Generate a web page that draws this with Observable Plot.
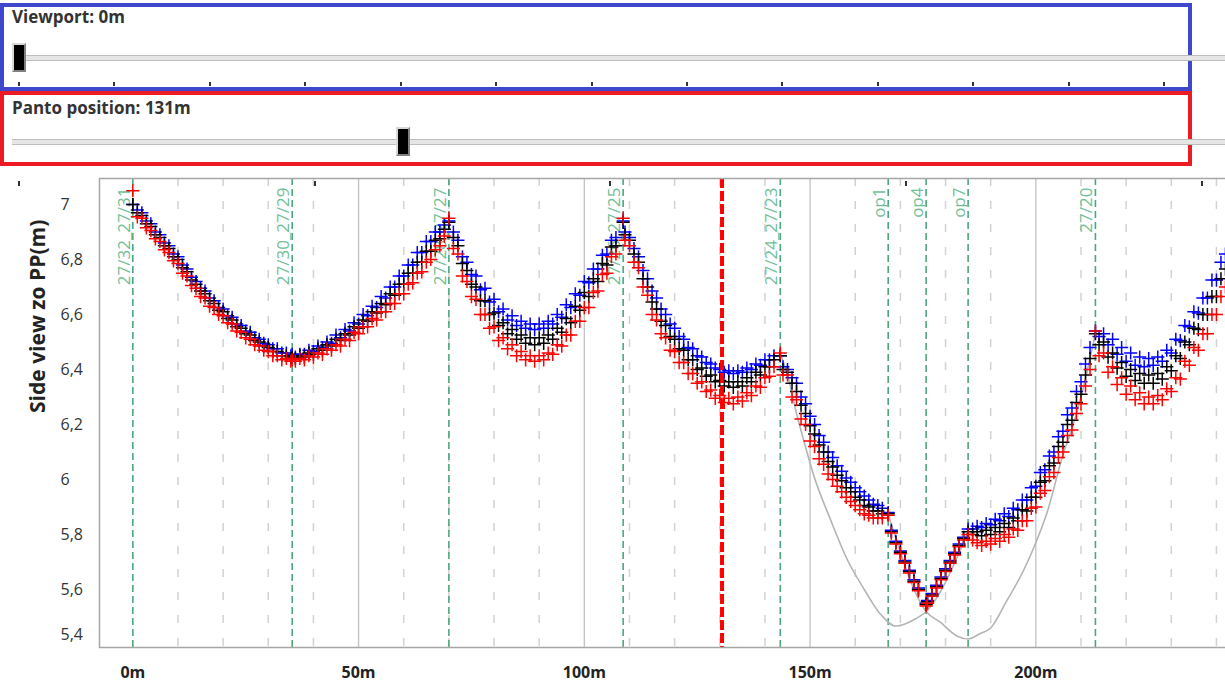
<!DOCTYPE html>
<html><head><meta charset="utf-8">
<script src="https://cdn.jsdelivr.net/npm/d3@7"></script>
<script src="https://cdn.jsdelivr.net/npm/@observablehq/plot@0.6"></script>
<style>
html,body{margin:0;padding:0;background:#fff;}
#wrap{position:relative;width:1225px;height:684px;overflow:hidden;background:#fff;font-family:'Open Sans',sans-serif;}
.box{position:absolute;box-sizing:border-box;}
.lbl{position:absolute;font-weight:bold;font-size:17px;line-height:17px;color:#333;white-space:nowrap;}
.track{position:absolute;box-sizing:border-box;height:6px;border-top:1px solid #bdbdbd;border-bottom:1px solid #bdbdbd;background:#e6e6e6;}
.thumb{position:absolute;box-sizing:border-box;width:14px;height:29px;background:#000;border:2px solid;border-color:#d8d8d8 #808080 #808080 #d8d8d8;}
.tick{position:absolute;width:2px;background:#333;z-index:3;}
#chart{position:absolute;left:0;top:168px;width:1240px;}
#chart svg{max-width:none !important;}
</style>
</head>
<body>
<div id="wrap">
  <div class="box" style="left:0;top:3px;width:1192px;height:88px;border:4px solid #3f48cc;"></div>
  <div class="lbl" style="left:12px;top:8px;">Viewport: 0m</div>
  <div class="track" style="left:12px;top:55px;width:1213px;"></div>
  <div class="thumb" style="left:12px;top:43px;"></div>
  <div class="box" style="left:0;top:91px;width:1192px;height:75px;border:4px solid #ed1c24;"></div>
  <div class="lbl" style="left:12px;top:99px;">Panto position: 131m</div>
  <div class="track" style="left:12px;top:139px;width:1213px;"></div>
  <div class="thumb" style="left:396px;top:127px;"></div>
  <div id="chart"></div>
</div>
<script>
// ---- data (distance in m, height in m) ----
// pass A
const distanceA = [0,2,4,6,8,10,12,14,16,18,20,22,24,26,28,30,32,34,35.3,
  37,39,41,43,45,47,49,51,53,55,57,59,61,63,65,67,69,70,
  72,74,76,78,80,82,84,86,88,90,92,94,96,98,100,102,104,106,108.6,
  110,112,114,116,118,120,122,124,126,128,130,132,134,136,138,140,142,143.4,
  145,147,149,151,153,155,157,159,161,163,165,167.3,
  169,171,173,175.7,177,179,181,183,185,
  187,189,191,193,195,197,199,201,203,205,207,209,211,213.2,
  215,217,219,221,223,225,227,229,231,233,235,237,239,241,242];

const blueA = [7.00,6.97,6.93,6.89,6.85,6.81,6.765,6.72,6.685,6.65,6.62,6.59,6.56,6.535,6.51,6.49,6.475,6.46,6.455,
  6.455,6.47,6.485,6.50,6.525,6.545,6.57,6.60,6.63,6.665,6.70,6.74,6.78,6.825,6.865,6.90,6.925,6.94,
  6.87,6.79,6.74,6.695,6.655,6.62,6.595,6.575,6.565,6.565,6.575,6.60,6.635,6.675,6.72,6.765,6.815,6.87,6.94,
  6.88,6.81,6.73,6.66,6.60,6.55,6.51,6.475,6.445,6.42,6.40,6.395,6.395,6.405,6.42,6.435,6.45,6.45,
  6.40,6.35,6.275,6.20,6.135,6.08,6.03,5.99,5.955,5.925,5.905,5.88,
  5.775,5.705,5.635,5.55,5.585,5.645,5.705,5.765,5.82,
  5.83,5.84,5.855,5.875,5.895,5.925,5.97,6.025,6.085,6.155,6.235,6.32,6.42,6.54,
  6.53,6.51,6.48,6.46,6.445,6.44,6.445,6.47,6.51,6.56,6.61,6.66,6.725,6.79,6.82];

const blackA = [7.00,6.96,6.92,6.88,6.84,6.80,6.755,6.71,6.675,6.64,6.61,6.58,6.55,6.525,6.50,6.48,6.465,6.45,6.445,
  6.45,6.46,6.475,6.49,6.51,6.53,6.555,6.58,6.61,6.64,6.675,6.71,6.75,6.79,6.83,6.87,6.91,6.935,
  6.85,6.76,6.70,6.65,6.605,6.57,6.545,6.525,6.515,6.515,6.525,6.55,6.585,6.63,6.68,6.73,6.785,6.845,6.935,
  6.87,6.79,6.70,6.62,6.56,6.51,6.47,6.435,6.405,6.38,6.36,6.355,6.355,6.37,6.39,6.41,6.435,6.45,
  6.39,6.32,6.24,6.165,6.10,6.045,5.995,5.955,5.925,5.90,5.885,5.875,
  5.77,5.70,5.63,5.545,5.58,5.64,5.70,5.76,5.81,
  5.81,5.815,5.825,5.84,5.86,5.89,5.935,5.99,6.05,6.12,6.20,6.28,6.38,6.53,
  6.50,6.46,6.425,6.40,6.385,6.38,6.385,6.41,6.45,6.50,6.55,6.60,6.665,6.73,6.765];

const redA = [7.05,6.95,6.905,6.865,6.825,6.785,6.74,6.695,6.66,6.625,6.595,6.565,6.535,6.51,6.485,6.465,6.45,6.44,6.435,
  6.44,6.45,6.46,6.475,6.49,6.51,6.535,6.555,6.585,6.61,6.64,6.675,6.71,6.75,6.79,6.835,6.885,6.95,
  6.82,6.72,6.655,6.60,6.555,6.515,6.49,6.465,6.45,6.45,6.46,6.49,6.525,6.575,6.625,6.68,6.745,6.81,6.95,
  6.85,6.77,6.67,6.58,6.515,6.465,6.425,6.385,6.355,6.325,6.305,6.295,6.30,6.315,6.34,6.37,6.41,6.46,
  6.38,6.29,6.20,6.12,6.055,6.00,5.955,5.92,5.89,5.87,5.86,5.87,
  5.765,5.695,5.625,5.54,5.575,5.635,5.695,5.755,5.80,
  5.77,5.775,5.785,5.80,5.82,5.85,5.895,5.95,6.01,6.08,6.16,6.24,6.34,6.54,
  6.46,6.41,6.37,6.34,6.315,6.30,6.305,6.33,6.37,6.43,6.48,6.53,6.60,6.665,6.70];

// pass B
const distanceB = [1,3,5,7,9,11,13,15,17,19,21,23,25,27,29,31,33,35,
  36,38,40,42,44,46,48,50,52,54,56,58,60,62,64,66,68,
  71,73,75,77,79,81,83,85,87,89,91,93,95,97,99,101,103,105,107,
  109,111,113,115,117,119,121,123,125,127,129,131,133,135,137,139,141,
  144,146,148,150,152,154,156,158,160,162,164,166,
  168,170,172,174,176,178,180,182,184,
  186,188,190,192,194,196,198,200,202,204,206,208,210,212,
  214,216,218,220,222,224,226,228,230,232,234,236,238,240];

const blueB = [6.98,6.94,6.90,6.86,6.82,6.78,6.735,6.695,6.66,6.625,6.595,6.565,6.54,6.515,6.495,6.475,6.46,6.45,
  6.445,6.455,6.465,6.48,6.495,6.515,6.54,6.565,6.595,6.625,6.66,6.70,6.74,6.78,6.825,6.865,6.90,
  6.90,6.81,6.745,6.69,6.645,6.61,6.58,6.56,6.55,6.545,6.55,6.565,6.59,6.625,6.67,6.715,6.765,6.82,6.88,
  6.90,6.84,6.76,6.685,6.62,6.565,6.52,6.48,6.45,6.425,6.405,6.39,6.385,6.39,6.40,6.415,6.435,
  6.41,6.37,6.30,6.23,6.16,6.10,6.05,6.005,5.97,5.94,5.91,5.895,
  5.815,5.74,5.67,5.605,5.56,5.615,5.675,5.735,5.79,
  5.82,5.825,5.835,5.85,5.865,5.89,5.925,5.975,6.035,6.10,6.175,6.26,6.355,6.48,
  6.52,6.49,6.455,6.43,6.415,6.41,6.415,6.43,6.46,6.505,6.555,6.605,6.66,6.725];

const blackB = [6.97,6.93,6.89,6.85,6.81,6.77,6.725,6.685,6.65,6.615,6.585,6.555,6.53,6.505,6.485,6.465,6.45,6.44,
  6.44,6.445,6.455,6.47,6.485,6.505,6.525,6.55,6.575,6.605,6.635,6.67,6.71,6.75,6.79,6.83,6.875,
  6.88,6.785,6.71,6.65,6.60,6.56,6.53,6.51,6.495,6.49,6.495,6.51,6.535,6.57,6.615,6.665,6.72,6.78,6.85,
  6.89,6.82,6.73,6.645,6.575,6.52,6.475,6.435,6.40,6.375,6.355,6.34,6.335,6.34,6.355,6.38,6.41,
  6.40,6.35,6.27,6.195,6.125,6.065,6.015,5.97,5.935,5.905,5.885,5.875,
  5.81,5.735,5.665,5.60,5.555,5.61,5.67,5.73,5.785,
  5.80,5.795,5.80,5.81,5.825,5.85,5.885,5.935,5.995,6.06,6.135,6.215,6.31,6.44,
  6.49,6.445,6.405,6.375,6.36,6.35,6.35,6.365,6.395,6.44,6.49,6.545,6.60,6.665];

const redB = [6.955,6.915,6.875,6.835,6.795,6.75,6.705,6.665,6.63,6.60,6.57,6.54,6.515,6.49,6.47,6.45,6.435,6.43,
  6.43,6.435,6.445,6.455,6.47,6.485,6.505,6.53,6.555,6.58,6.61,6.64,6.675,6.715,6.755,6.80,6.85,
  6.84,6.74,6.665,6.60,6.55,6.505,6.475,6.45,6.435,6.43,6.435,6.455,6.485,6.525,6.575,6.625,6.685,6.75,6.82,
  6.87,6.79,6.70,6.60,6.53,6.47,6.425,6.385,6.35,6.32,6.295,6.28,6.275,6.285,6.305,6.335,6.375,
  6.38,6.30,6.22,6.14,6.075,6.02,5.975,5.935,5.905,5.875,5.86,5.86,
  5.805,5.73,5.66,5.595,5.55,5.605,5.665,5.725,5.78,
  5.78,5.76,5.765,5.775,5.79,5.815,5.85,5.90,5.96,6.025,6.10,6.18,6.275,6.40,
  6.45,6.39,6.345,6.31,6.29,6.275,6.275,6.29,6.32,6.365,6.415,6.47,6.53,6.60];

// static wires (grey)
const wireA_distance = [143.4,145,147,148.3,150.9,154.5,158.2,162,165.6,169,173,175.7,185];
const wireA_height   = [6.46,6.38,6.24,6.16,6.01,5.855,5.71,5.60,5.51,5.467,5.49,5.52,5.81];
const wireB_distance = [167.3,175.7,178.9,182.6,185,187.7,190,193.6,197.3,200,202.5,206.2,207.7,210,213.2];
const wireB_height   = [5.875,5.52,5.48,5.43,5.42,5.44,5.46,5.56,5.67,5.77,5.88,6.10,6.17,6.30,6.53];

// poles / markers
const poleDistance = [0,35.3,70,108.6,143.4,167.3,175.7,185,213.2];
const poleLabel = ["27/32_27/31","27/30_27/29","27/28_27/27","27/26_27/25","27/24_27/23","op1","op4","op7","27/20"];
const pantoPosition = 130.5;

const gridSolid = [50,100,150,200];
const gridDashed = [10,20,30,40,60,70,80,90,110,120,130,140,160,170,180,190,210,220,230,240];
const xTicks = [0,50,100,150,200];
const yTicks = [5.6,5.8,6,6.2,6.4,6.6,6.8,7];
const yTickLast = [5.4];

// slider decorations
const viewportTicks = [19,114,210,305,401,496,592,687,782,878,973,1069,1164];
const pantoTicks = [19,315,610,906,1202];

// ---- build ----
const rows = (xs, ys) => xs.map((d, i) => ({distance: d, height: ys[i]}));
const poles = poleDistance.map((d, i) => ({distance: d, label: poleLabel[i]}));
const fmt = (v) => String(v).replace(".", ",");
const plus = (data, color) => Plot.dot(data, {x: "distance", y: "height", symbol: "plus", r: 4.3, stroke: color, strokeWidth: 1.5});

const chart = Plot.plot({
  width: 1240, height: 516,
  marginLeft: 99, marginRight: 13, marginTop: 10, marginBottom: 37,
  style: {fontFamily: "'Open Sans', sans-serif", background: "transparent", maxWidth: "none"},
  x: {domain: [-7.38, 242.45], axis: null},
  y: {domain: [5.389, 7.0945], axis: null},
  marks: [
    Plot.ruleX(gridDashed, {x: d => d, stroke: "#d2d2d2", strokeWidth: 1.5, strokeDasharray: "8,15"}),
    Plot.ruleX(gridSolid, {x: d => d, stroke: "#c2c2c2", strokeWidth: 1.3}),
    Plot.ruleX(poleDistance, {x: d => d, stroke: "#4ea77c", strokeWidth: 1.6, strokeDasharray: "7,4"}),
    Plot.text(poles, {x: "distance", text: "label", frameAnchor: "top", rotate: -90,
      textAnchor: "end", lineAnchor: "bottom", dx: -3, dy: 9, fill: "#72bf97", fontSize: 17}),
    Plot.line(rows(wireA_distance, wireA_height), {x: "distance", y: "height", stroke: "#b4b4b4", strokeWidth: 1.6, curve: "monotone-x"}),
    Plot.line(rows(wireB_distance, wireB_height), {x: "distance", y: "height", stroke: "#b4b4b4", strokeWidth: 1.6, curve: "monotone-x"}),
    plus(rows(distanceA, blueA), "#0000ff"),
    plus(rows(distanceB, blueB), "#0000ff"),
    plus(rows(distanceA, blackA), "#000000"),
    plus(rows(distanceB, blackB), "#000000"),
    plus(rows(distanceA, redA), "#ff0000"),
    plus(rows(distanceB, redB), "#ff0000"),
    Plot.ruleX([pantoPosition], {x: d => d, stroke: "#ff0000", strokeWidth: 4, strokeDasharray: "10,3"}),
    Plot.frame({stroke: "#a6a6a6", strokeWidth: 1.5}),
    Plot.text(yTicks, {y: d => d, text: d => fmt(d), frameAnchor: "left", dx: -39, textAnchor: "start", lineAnchor: "middle", fontSize: 16, fill: "#333"}),
    Plot.text(yTickLast, {y: d => d, text: d => fmt(d), frameAnchor: "left", dx: -39, dy: -10, textAnchor: "start", lineAnchor: "middle", fontSize: 16, fill: "#333"}),
    Plot.text(xTicks, {x: d => d, text: d => d + "m", frameAnchor: "bottom", dy: 25, lineAnchor: "middle", fontSize: 16, fontWeight: "bold", fill: "#222"}),
    Plot.text(["Side view zo PP(m)"], {text: d => d, frameAnchor: "left", dx: -61, rotate: -90, lineAnchor: "middle", fontSize: 21, fontWeight: "bold", fill: "#222"})
  ]
});
document.getElementById("chart").appendChild(chart);

const wrap = document.getElementById("wrap");
viewportTicks.forEach(x => {
  const t = document.createElement("div");
  t.className = "tick"; t.style.left = (x - 1) + "px"; t.style.top = "82px"; t.style.height = "4px";
  wrap.appendChild(t);
});
pantoTicks.forEach(x => {
  const t = document.createElement("div");
  t.className = "tick"; t.style.left = (x - 1) + "px"; t.style.top = "181px"; t.style.height = "5px";
  wrap.appendChild(t);
});
</script>
</body></html>
